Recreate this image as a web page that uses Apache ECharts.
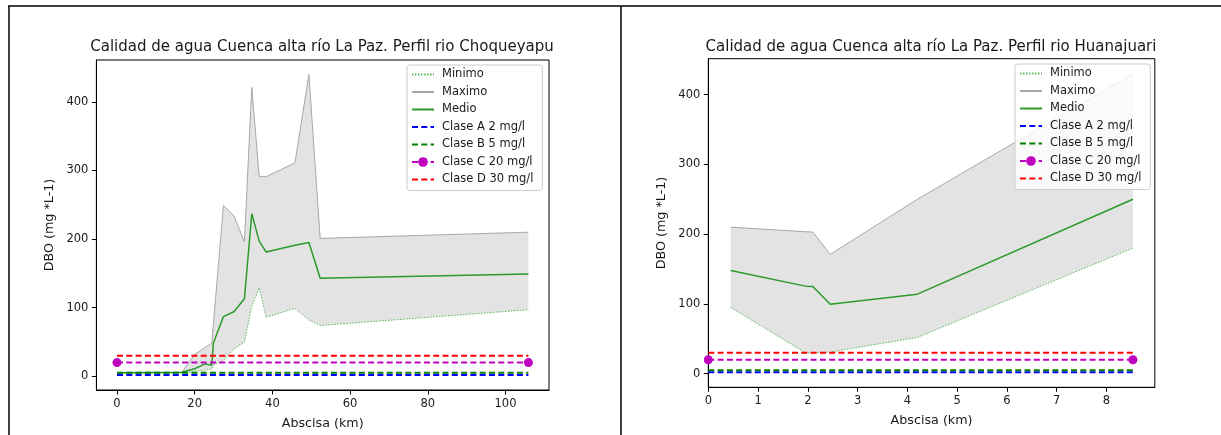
<!DOCTYPE html>
<html>
<head>
<meta charset="utf-8">
<script src="https://cdn.jsdelivr.net/npm/echarts@6/dist/echarts.min.js"></script>
<style>
  html, body { margin: 0; padding: 0; background: #fff; }
  #chart { width: 1221px; height: 435px; }
</style>
</head>
<body>
<div id="chart"></div>
<script>
// Perfil rio Choqueyapu (left)
const xChoq = [0, 16.6, 20, 22.7, 24.4, 24.8, 27.4, 30.1, 32.8, 34.7, 36.6, 38.4, 45.8, 49.4, 52.3, 105.9];
const minChoq = [5, 5, 7, 9, 11, 16, 23, 40, 50, 102, 129, 86, 99, 82, 74, 97];
const maxChoq = [5, 5, 32, 42, 48, 75, 249, 234, 196, 421, 291, 291, 311, 440, 201, 210];
const medChoq = [5, 6, 11, 18, 16, 48, 87, 94, 113, 237, 197, 181, 191, 195, 143, 149];

// Perfil rio Huanajuari (right)
const xHuan = [0.45, 1.95, 2.1, 2.45, 4.2, 8.53];
const minHuan = [95, 30, 30, 31, 52, 180];
const maxHuan = [210, 203.5, 203, 171, 250, 430];
const medHuan = [148, 125.5, 125, 99.5, 114, 250];

// water quality class limits (mg/l)
const claseNames = ['Clase A 2 mg/l', 'Clase B 5 mg/l', 'Clase C 20 mg/l', 'Clase D 30 mg/l'];
const claseValues = [2, 5, 20, 30];
const claseColors = ['#0000ff', '#008000', '#bf00bf', '#ff0000'];
const claseXChoq = [0, 105.9];
const claseXHuan = [0, 8.53];

const ticksChoqX = [0, 20, 40, 60, 80, 100];
const ticksHuanX = [0, 1, 2, 3, 4, 5, 6, 7, 8];
const ticksY = [0, 100, 200, 300, 400];

const titles = [
  'Calidad de agua Cuenca alta río La Paz. Perfil rio Choqueyapu',
  'Calidad de agua Cuenca alta río La Paz. Perfil rio Huanajuari'
];
const legendNames = ['Minimo', 'Maximo', 'Medio'].concat(claseNames);

const FONT = 'DejaVu Sans';
const TXT = '#1a1a1a';

const pairs = (xs, ys) => xs.map((x, i) => [x, ys[i]]);

function bandSeries(idx, xs, lo, hi) {
  return {
    type: 'custom',
    xAxisIndex: idx, yAxisIndex: idx,
    silent: true, z: 1,
    data: [[xs[0], lo[0]]],
    renderItem(params, api) {
      const pts = [];
      xs.forEach((x, i) => pts.push(api.coord([x, hi[i]])));
      for (let i = xs.length - 1; i >= 0; i--) pts.push(api.coord([xs[i], lo[i]]));
      return { type: 'polygon', shape: { points: pts }, style: { fill: '#e3e3e3' } };
    }
  };
}

function profileSeries(idx, xs, lo, hi, med, claseX) {
  const s = [bandSeries(idx, xs, lo, hi)];
  s.push({
    name: 'Minimo', type: 'line', xAxisIndex: idx, yAxisIndex: idx, symbol: 'none', z: 2,
    data: pairs(xs, lo), lineStyle: { color: '#5cb85c', width: 1, type: [1.5, 1.5] }, itemStyle: { color: '#5cb85c' }
  });
  s.push({
    name: 'Maximo', type: 'line', xAxisIndex: idx, yAxisIndex: idx, symbol: 'none', z: 2,
    data: pairs(xs, hi), lineStyle: { color: '#a8a8a8', width: 1 }, itemStyle: { color: '#a8a8a8' }
  });
  s.push({
    name: 'Medio', type: 'line', xAxisIndex: idx, yAxisIndex: idx, symbol: 'none', z: 3,
    data: pairs(xs, med), lineStyle: { color: '#2a9a2a', width: 1.5 }, itemStyle: { color: '#2a9a2a' }
  });
  claseValues.forEach((v, k) => {
    const withDot = k === 2;
    s.push({
      name: claseNames[k], type: 'line', xAxisIndex: idx, yAxisIndex: idx, z: 4,
      symbol: withDot ? 'circle' : 'none', symbolSize: 9, showSymbol: withDot,
      data: claseX.map(x => [x, v]),
      lineStyle: { color: claseColors[k], width: 2, type: [6, 3.3] },
      itemStyle: { color: claseColors[k] }
    });
  });
  return s;
}

function xAxis(idx, min, max, ticks) {
  return {
    type: 'value', gridIndex: idx, min: min, max: max,
    name: 'Abscisa (km)', nameLocation: 'middle', nameGap: 27,
    nameTextStyle: { fontFamily: FONT, fontSize: 12.7, color: TXT },
    axisLine: { show: true, onZero: false, lineStyle: { color: '#000', width: 1 } },
    axisTick: { show: true, customValues: ticks, length: 4.5, lineStyle: { color: '#000' } },
    axisLabel: { customValues: ticks, margin: 8, fontFamily: FONT, fontSize: 11.5, color: TXT },
    splitLine: { show: false }
  };
}

function yAxis(idx, min, max) {
  return {
    type: 'value', gridIndex: idx, min: min, max: max,
    name: 'DBO (mg *L-1)', nameLocation: 'middle', nameGap: 40, nameRotate: 90,
    nameTextStyle: { fontFamily: FONT, fontSize: 12.7, color: TXT },
    axisLine: { show: true, onZero: false, lineStyle: { color: '#000', width: 1 } },
    axisTick: { show: true, customValues: ticksY, length: 4.5, lineStyle: { color: '#000' } },
    axisLabel: { customValues: ticksY, margin: 8, fontFamily: FONT, fontSize: 11.5, color: TXT },
    splitLine: { show: false }
  };
}

function legend(left, top) {
  return {
    // only the Clase C entry keeps its round marker
    data: legendNames.map(n => n === claseNames[2] ? { name: n } : { name: n, itemStyle: { opacity: 0 } }),
    orient: 'vertical', left: left, top: top,
    itemWidth: 22, itemHeight: 12, itemGap: 5.5,
    padding: [3.5, 9, 5, 4],
    backgroundColor: 'rgba(255,255,255,0.8)', borderColor: '#cccccc', borderWidth: 1, borderRadius: 3,
    textStyle: { fontFamily: FONT, fontSize: 11.5, color: TXT, lineHeight: 12, padding: [0, 0, 0, 3] },
    selectedMode: false
  };
}

const chart = echarts.init(document.getElementById('chart'), null, { renderer: 'canvas' });

chart.setOption({
  animation: false,
  backgroundColor: '#fff',
  title: [
    { text: titles[0], left: 322, top: 40, textAlign: 'center', padding: 0,
      textStyle: { fontFamily: FONT, fontSize: 15, fontWeight: 'normal', color: TXT } },
    { text: titles[1], left: 931, top: 40, textAlign: 'center', padding: 0,
      textStyle: { fontFamily: FONT, fontSize: 15, fontWeight: 'normal', color: TXT } }
  ],
  legend: [legend(407, 65), legend(1015, 64)],
  grid: [
    { left: 96.4, top: 60, width: 452.6, height: 332.7, show: true, borderColor: '#000', borderWidth: 1 },
    { left: 708.3, top: 58.7, width: 446.5, height: 328.6, show: true, borderColor: '#000', borderWidth: 1 }
  ],
  xAxis: [xAxis(0, -5.3, 111.2, ticksChoqX), xAxis(1, 0, 8.97, ticksHuanX)],
  yAxis: [yAxis(0, -20, 461), yAxis(1, -19.5, 451.5)],
  series: profileSeries(0, xChoq, minChoq, maxChoq, medChoq, claseXChoq)
    .concat(profileSeries(1, xHuan, minHuan, maxHuan, medHuan, claseXHuan)),
  graphic: [
    { type: 'line', shape: { x1: 8, y1: 6, x2: 1221, y2: 6 }, style: { stroke: '#000', lineWidth: 1.5 } },
    { type: 'line', shape: { x1: 9, y1: 6, x2: 9, y2: 435 }, style: { stroke: '#000', lineWidth: 1.5 } },
    { type: 'line', shape: { x1: 621, y1: 6, x2: 621, y2: 435 }, style: { stroke: '#000', lineWidth: 1.5 } }
  ]
});
</script>
</body>
</html>
